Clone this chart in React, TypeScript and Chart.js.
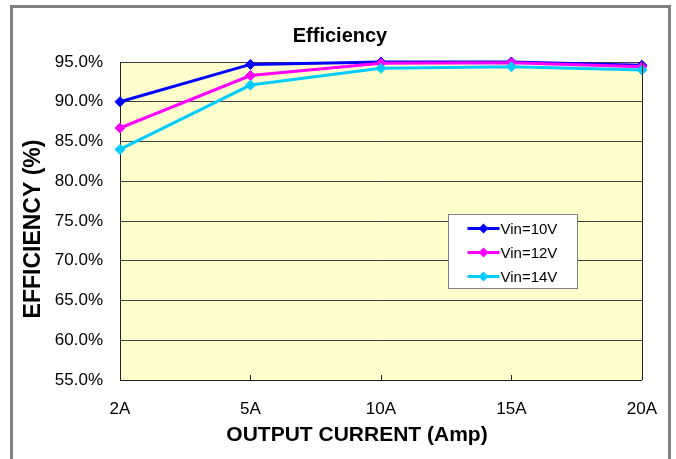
import React, { useEffect, useRef } from 'react';
import { Chart, registerables } from 'chart.js';

Chart.register(...registerables);

const categories = ['2A', '5A', '10A', '15A', '20A'];
const vin10 = [90.0, 94.7, 95.0, 95.0, 94.6];
const vin12 = [86.7, 93.3, 94.85, 94.9, 94.4];
const vin14 = [84.0, 92.1, 94.2, 94.4, 94.0];
const seriesLabels = ['Vin=10V', 'Vin=12V', 'Vin=14V'];
const seriesColors = ['#0000FF', '#FF00FF', '#00CCFF'];
const yMin = 55;
const yMax = 95;
const yStep = 5;
const chartTitle = 'Efficiency';
const xTitle = 'OUTPUT CURRENT (Amp)';
const yTitle = 'EFFICIENCY (%)';

const FONT = "'Liberation Sans', Arial, sans-serif";

const decorPlugin = {
  id: 'decor',
  beforeDraw(chart: any) {
    const { ctx, chartArea, width, height } = chart;
    ctx.save();
    ctx.fillStyle = '#FFFFFF';
    ctx.fillRect(0, 0, width, height);
    ctx.fillStyle = '#FFFFCC';
    ctx.fillRect(chartArea.left, chartArea.top, chartArea.right - chartArea.left, chartArea.bottom - chartArea.top);
    ctx.strokeStyle = '#808080';
    ctx.lineWidth = 3;
    ctx.strokeRect(11.5, 6.5, 658, height + 20);
    ctx.restore();
  },
  afterDatasetsDraw(chart: any) {
    const { ctx, chartArea, scales } = chart;
    ctx.save();
    // right border of plot
    ctx.strokeStyle = '#202020';
    ctx.lineWidth = 1;
    ctx.beginPath();
    ctx.moveTo(Math.round(chartArea.right) + 0.5, chartArea.top);
    ctx.lineTo(Math.round(chartArea.right) + 0.5, chartArea.bottom);
    ctx.stroke();
    // small inner ticks on x axis
    const xs = scales.x;
    for (let i = 1; i < categories.length - 1; i++) {
      const px = Math.round(xs.getPixelForTick(i)) + 0.5;
      ctx.beginPath();
      ctx.moveTo(px, chartArea.bottom);
      ctx.lineTo(px, chartArea.bottom - 5);
      ctx.stroke();
    }
    // legend
    const bx = Math.round(chartArea.left + 328) + 0.5;
    const by = Math.round(chartArea.top + 152) + 0.5;
    const bw = 129;
    const bh = 74;
    ctx.fillStyle = '#FFFFFF';
    ctx.fillRect(bx, by, bw, bh);
    ctx.strokeStyle = '#808080';
    ctx.lineWidth = 1;
    ctx.strokeRect(bx, by, bw, bh);
    chart.data.datasets.forEach((ds: any, i: number) => {
      const cy = by + 14 + i * 24;
      ctx.strokeStyle = ds.borderColor;
      ctx.lineWidth = 3;
      ctx.beginPath();
      ctx.moveTo(bx + 19, cy);
      ctx.lineTo(bx + 51, cy);
      ctx.stroke();
      ctx.fillStyle = ds.borderColor;
      ctx.beginPath();
      ctx.moveTo(bx + 35, cy - 5);
      ctx.lineTo(bx + 40, cy);
      ctx.lineTo(bx + 35, cy + 5);
      ctx.lineTo(bx + 30, cy);
      ctx.closePath();
      ctx.fill();
      ctx.fillStyle = '#000000';
      ctx.font = `15px ${FONT}`;
      ctx.textBaseline = 'middle';
      ctx.textAlign = 'left';
      ctx.fillText(ds.label, bx + 52, cy + 1);
    });
    // titles
    ctx.fillStyle = '#000000';
    ctx.textAlign = 'center';
    ctx.textBaseline = 'middle';
    ctx.font = `bold 20px ${FONT}`;
    ctx.fillText(chartTitle, 340, 36);
    ctx.font = `bold 21px ${FONT}`;
    ctx.fillText(xTitle, 357, 435);
    ctx.save();
    ctx.translate(34, 229);
    ctx.rotate(-Math.PI / 2);
    ctx.font = `bold 23px ${FONT}`;
    ctx.fillText(yTitle, 0, 0);
    ctx.restore();
    ctx.restore();
  },
};

export default function App() {
  const canvasRef = useRef<HTMLCanvasElement | null>(null);

  useEffect(() => {
    document.body.style.margin = '0';
    const canvas = canvasRef.current;
    if (!canvas) return;
    const seriesData = [vin10, vin12, vin14];
    const chart = new Chart(canvas, {
      type: 'line',
      data: {
        labels: categories,
        datasets: seriesData.map((d, i) => ({
          label: seriesLabels[i],
          data: d,
          borderColor: seriesColors[i],
          backgroundColor: seriesColors[i],
          pointBackgroundColor: seriesColors[i],
          pointBorderColor: seriesColors[i],
          pointStyle: 'rectRot',
          pointRadius: 5,
          pointBorderWidth: 1,
          borderWidth: 3,
          tension: 0,
          fill: false,
          order: 2 - i,
          clip: false,
        })),
      },
      options: {
        animation: false,
        responsive: true,
        maintainAspectRatio: false,
        layout: { padding: { left: 18, right: 33, top: 62, bottom: 7 } },
        plugins: {
          legend: { display: false },
          tooltip: { enabled: false },
          title: { display: false },
        },
        scales: {
          x: {
            type: 'category',
            offset: false,
            grid: { display: false, drawTicks: false },
            border: { display: true, color: '#202020', width: 1 },
            ticks: {
              color: '#000000',
              font: { family: FONT, size: 17 },
              padding: 19,
              maxRotation: 0,
              autoSkip: false,
            },
            title: { display: false },
            afterFit(scale: any) {
              scale.height = 72;
            },
          },
          y: {
            min: yMin,
            max: yMax,
            grid: { color: '#404040', lineWidth: 1, drawTicks: false },
            border: { display: true, color: '#202020', width: 1 },
            ticks: {
              stepSize: yStep,
              color: '#000000',
              font: { family: FONT, size: 17 },
              padding: 17,
              callback: (v: any) => Number(v).toFixed(1) + '%',
            },
            title: { display: false },
            afterFit(scale: any) {
              scale.width = 102;
            },
          },
        },
      },
      plugins: [decorPlugin],
    });
    return () => chart.destroy();
  }, []);

  return (
    <div style={{ width: 676, height: 459, position: 'relative' }}>
      <canvas ref={canvasRef} />
    </div>
  );
}
